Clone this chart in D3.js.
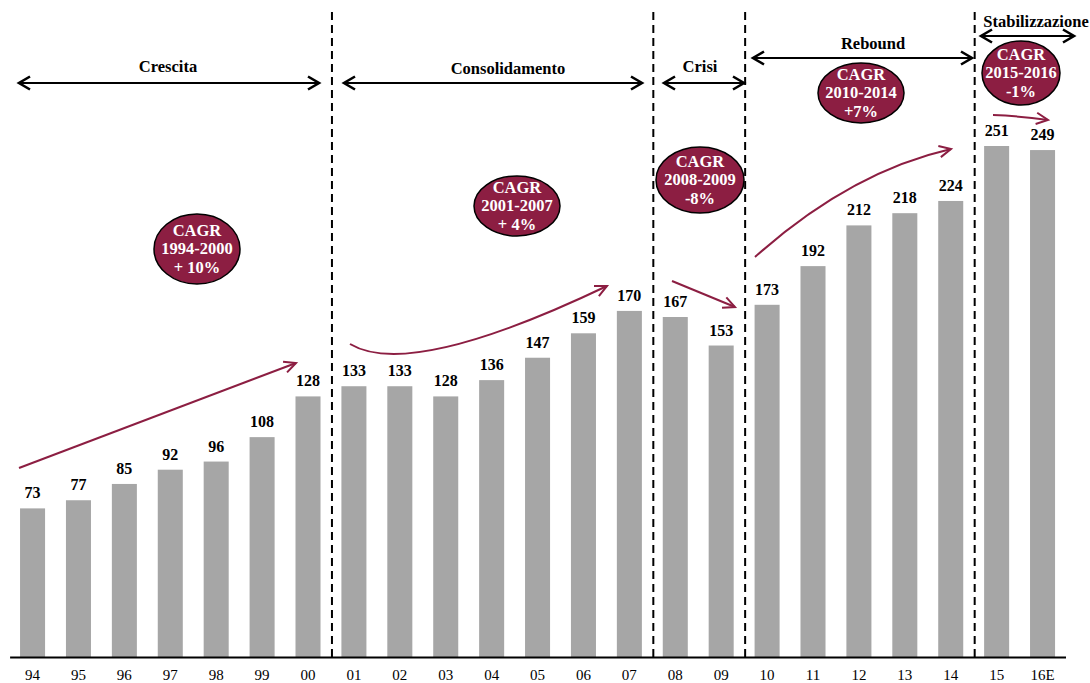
<!DOCTYPE html>
<html lang="en">
    <head>
        <meta charset="utf-8">
        <title>Mercato 1994-2016</title>
        <script type="text/javascript" src="https://cdn.jsdelivr.net/npm/d3@7/dist/d3.min.js"></script>
        <style>
            body { margin: 0; background: #fff; }
            svg text { font-family: "Liberation Serif", "Times New Roman", Times, "DejaVu Serif", serif; }
        </style>
    </head>

    <body>
        <script type="text/javascript">

            // Data
            var categories = ["94","95","96","97","98","99","00","01","02","03","04","05","06","07","08","09","10","11","12","13","14","15","16E"];
            var values = [73, 77, 85, 92, 96, 108, 128, 133, 133, 128, 136, 147, 159, 170, 167, 153, 173, 192, 212, 218, 224, 251, 249];

            // Phases: name, first category, last category
            var phaseNames = ["Crescita", "Consolidamento", "Crisi", "Rebound", "Stabilizzazione"];
            var phaseStart = ["94", "01", "08", "10", "15"];
            var phaseEnd   = ["00", "07", "09", "14", "16E"];

            // CAGR bubbles
            var cagrPeriods = ["1994-2000", "2001-2007", "2008-2009", "2010-2014", "2015-2016"];
            var cagrRates   = ["+ 10%", "+ 4%", "-8%", "+7%", "-1%"];

            var w = 1090, h = 683;
            var serif = "'Liberation Serif', 'Times New Roman', Times, 'DejaVu Serif', serif";
            var svg = d3.select("body").append("svg").attr("width", w).attr("height", h)
                        .style("font-family", serif);

            var x = d3.scaleBand().domain(categories).range([9.6, 1065.5])
                      .paddingInner(0.455).paddingOuter(0.2275);
            var y = d3.scaleLinear().domain([0, 251]).range([657, 146]);

            var maroon = "#8c1e42";

            // bars
            svg.selectAll("rect.bar").data(values).enter().append("rect")
                .attr("class", "bar")
                .attr("x", function(d, i) { return x(categories[i]); })
                .attr("y", function(d) { return y(d); })
                .attr("width", x.bandwidth())
                .attr("height", function(d) { return y(0) - y(d); })
                .attr("fill", "#a6a6a6");

            // value labels
            svg.selectAll("text.val").data(values).enter().append("text")
                .attr("class", "val")
                .text(function(d) { return d; })
                .attr("x", function(d, i) { return x(categories[i]) + x.bandwidth() / 2; })
                .attr("y", function(d) { return y(d) - 10; })
                .attr("text-anchor", "middle")
                .attr("font-weight", "bold")
                .attr("font-size", 16)
                .attr("fill", "#000");

            // x axis
            var axis = svg.append("g").attr("transform", "translate(0," + y(0) + ")")
                .call(d3.axisBottom(x).tickSize(0).tickSizeOuter(0).tickPadding(12));
            axis.attr("font-family", null);
            axis.select(".domain").attr("stroke", "#000").attr("stroke-width", 2);
            axis.selectAll("text").attr("font-size", 15).attr("fill", "#000");

            // dashed dividers between phases
            var step = x.step();
            var dividers = phaseEnd.slice(0, -1).map(function(c) { return x(c) + x.bandwidth() + (step - x.bandwidth()) / 2 + 1; });
            svg.selectAll("line.div").data(dividers).enter().append("line")
                .attr("class", "div")
                .attr("x1", function(d) { return d; }).attr("x2", function(d) { return d; })
                .attr("y1", 12).attr("y2", y(0))
                .attr("stroke", "#000").attr("stroke-width", 2)
                .attr("stroke-dasharray", "8,5");

            // phase headers: double arrows + names
            var arrowLeft  = [18, 343, 663, 752, 980];
            var arrowRight = [320, 643, 745, 973, 1075];
            var arrowY     = [83, 83, 83, 58, 36];
            var labelX     = [168, 508, 700, 873, 1036];
            var labelY     = [72, 74, 72, 49, 27];

            function chevron(g, tipX, tipY, dir, len, half, color, sw) {
                g.append("path")
                    .attr("d", "M" + (tipX - dir * len) + "," + (tipY - half) + " L" + tipX + "," + tipY +
                               " L" + (tipX - dir * len) + "," + (tipY + half))
                    .attr("fill", "none").attr("stroke", color).attr("stroke-width", sw)
                    .attr("stroke-linejoin", "miter");
            }

            phaseNames.forEach(function(name, i) {
                var g = svg.append("g");
                g.append("line")
                    .attr("x1", arrowLeft[i] + 1).attr("x2", arrowRight[i] - 1)
                    .attr("y1", arrowY[i]).attr("y2", arrowY[i])
                    .attr("stroke", "#000").attr("stroke-width", 2.2);
                chevron(g, arrowLeft[i] + 1, arrowY[i], -1, 11, 6.5, "#000", 2.6);
                chevron(g, arrowRight[i] - 1, arrowY[i], 1, 11, 6.5, "#000", 2.6);
                g.append("text")
                    .text(name)
                    .attr("x", labelX[i])
                    .attr("y", labelY[i])
                    .attr("text-anchor", "middle")
                    .attr("font-weight", "bold")
                    .attr("font-size", 16.5);
            });

            // CAGR bubbles
            var bubbleX  = [197, 517, 700, 861, 1021];
            var bubbleY  = [249, 206, 180, 93, 73];
            var bubbleRx = [43, 43, 44, 43, 39];
            var bubbleRy = [35, 30, 33, 30, 32];

            cagrPeriods.forEach(function(p, i) {
                var g = svg.append("g").attr("transform", "translate(" + bubbleX[i] + "," + bubbleY[i] + ")");
                g.append("ellipse")
                    .attr("rx", bubbleRx[i]).attr("ry", bubbleRy[i])
                    .attr("fill", maroon).attr("stroke", "#000").attr("stroke-width", 1.5);
                ["CAGR", p, cagrRates[i]].forEach(function(t, k) {
                    g.append("text")
                        .text(t)
                        .attr("x", 0)
                        .attr("y", -13.5 + k * 18.5)
                        .attr("text-anchor", "middle")
                        .attr("font-weight", "bold")
                        .attr("font-size", 16.5)
                        .attr("fill", "#fff");
                });
            });

            // trend arrows (maroon)
            var trends = [
                { from: [19, 468],  ctrl: null,       to: [296, 363] },
                { from: [350, 344], ctrl: [410, 380], to: [607, 286] },
                { from: [672, 281], ctrl: null,       to: [735, 307] },
                { from: [755, 257], ctrl: [850, 172], to: [951, 149] },
                { from: [993, 115], ctrl: [1020, 116], to: [1048, 120] }
            ];
            trends.forEach(function(t) {
                var path = d3.path();
                path.moveTo(t.from[0], t.from[1]);
                var c = t.ctrl || t.from;
                if (t.ctrl) path.quadraticCurveTo(c[0], c[1], t.to[0], t.to[1]);
                else path.lineTo(t.to[0], t.to[1]);
                svg.append("path").attr("d", path.toString())
                    .attr("fill", "none").attr("stroke", maroon).attr("stroke-width", 2);
                // arrow head along final tangent
                var ang = Math.atan2(t.to[1] - c[1], t.to[0] - c[0]);
                var L = 13, a = 0.45;
                var p1 = [t.to[0] - L * Math.cos(ang - a), t.to[1] - L * Math.sin(ang - a)];
                var p2 = [t.to[0] - L * Math.cos(ang + a), t.to[1] - L * Math.sin(ang + a)];
                svg.append("path")
                    .attr("d", "M" + p1 + " L" + t.to + " L" + p2)
                    .attr("fill", "none").attr("stroke", maroon).attr("stroke-width", 2);
            });
        </script>
    </body>
</html>
